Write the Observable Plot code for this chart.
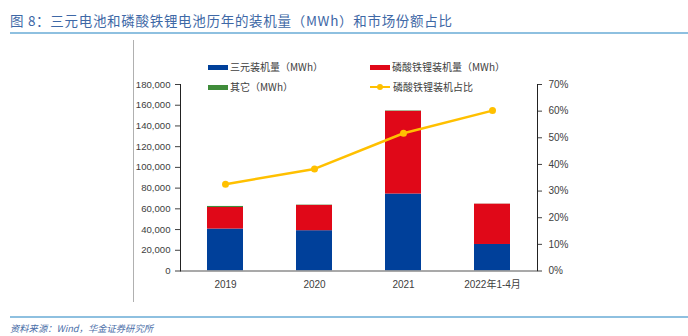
<!DOCTYPE html>
<html>
<head>
<meta charset="utf-8">
<script src="https://cdn.jsdelivr.net/npm/d3@7"></script>
<script src="https://cdn.jsdelivr.net/npm/@observablehq/plot@0.6"></script>
<style>
  body { margin: 0; background: #fff; }
  #wrap { position: relative; width: 688px; height: 336px; overflow: hidden; font-family: "Liberation Sans", "Noto Sans CJK SC", sans-serif; }
  #chart { position: absolute; left: 0; top: 0; }
  .title { position: absolute; left: 10px; top: 10px; font-family: "Noto Sans CJK SC", sans-serif; font-size: 13.5px; color: #3E68A6; letter-spacing: 0.7px; white-space: nowrap; line-height: 20px; }
  .hline { position: absolute; left: 10px; width: 678px; height: 2px; background: #8EC0E0; }
  .vline { position: absolute; left: 133px; top: 40px; width: 1px; height: 262px; background: #b0b0b0; }
  .foot { position: absolute; left: 10px; top: 321px; font-family: "Noto Sans CJK SC", sans-serif; font-size: 9.3px; font-style: italic; color: #4A6EA8; white-space: nowrap; line-height: 14px; }
  .leg { position: absolute; display: flex; align-items: center; font-family: "Noto Sans CJK SC", sans-serif; font-size: 10px; color: #404040; white-space: nowrap; line-height: 14px; }
  .sw { display: inline-block; width: 20px; height: 5px; margin-right: 2px; }
  .ln { position: relative; display: inline-block; width: 20px; height: 2px; margin-right: 3px; background: #FFC000; }
  .ln::after { content: ""; position: absolute; left: 7px; top: -2.5px; width: 6px; height: 6px; border-radius: 50%; background: #FFC000; }
</style>
</head>
<body>
<div id="wrap">
  <div id="chart"></div>
  <div class="title">图 8：三元电池和磷酸铁锂电池历年的装机量（MWh）和市场份额占比</div>
  <div class="hline" style="top:32px"></div>
  <div class="vline"></div>
  <div class="hline" style="top:316px"></div>
  <div class="foot">资料来源：Wind，华金证券研究所</div>
  <div id="legend"></div>
</div>
<script>
// ---- data ----
const years = ["2019", "2020", "2021", "2022年1-4月"];
const ternary = [40500, 38900, 74300, 25600];   // 三元装机量（MWh）
const lfp = [20800, 24400, 79800, 38900];       // 磷酸铁锂装机量（MWh）
const other = [1000, 300, 400, 100];            // 其它（MWh）
const lfpShare = [32.6, 38.3, 51.7, 60.2];      // 磷酸铁锂装机占比 (%)
const seriesNames = ["三元装机量（MWh）", "磷酸铁锂装机量（MWh）", "其它（MWh）", "磷酸铁锂装机占比"];
const seriesColors = ["#00409A", "#E00818", "#3F8C3A", "#FFC000"];
const leftTicks = [0, 20000, 40000, 60000, 80000, 100000, 120000, 140000, 160000, 180000];
const rightTicks = [0, 10, 20, 30, 40, 50, 60, 70];

const yMax = 180000, pMax = 70;
const toY = p => p / pMax * yMax;

const bars = [];
years.forEach((yr, i) => {
  bars.push({year: yr, series: seriesNames[0], value: ternary[i]});
  bars.push({year: yr, series: seriesNames[1], value: lfp[i]});
  bars.push({year: yr, series: seriesNames[2], value: other[i]});
});
const share = years.map((yr, i) => ({year: yr, share: lfpShare[i]}));

const fmt = d3.format(",");
const plot = Plot.plot({
  width: 688,
  height: 336,
  marginLeft: 180,
  marginRight: 151,
  marginTop: 84,
  marginBottom: 65.5,
  style: {fontFamily: "'Liberation Sans', 'Noto Sans CJK SC', sans-serif", fontSize: "10px", color: "#404040", background: "transparent"},
  x: {type: "band", domain: years, paddingInner: 0.6, paddingOuter: 0.3},
  y: {domain: [0, yMax]},
  color: {domain: seriesNames.slice(0, 3), range: seriesColors.slice(0, 3)},
  marks: [
    Plot.barY(bars, {x: "year", y: "value", fill: "series"}),
    Plot.ruleY([0], {stroke: "#8c8c8c", strokeWidth: 1.5}),
    Plot.frame({anchor: "left", stroke: "#222"}),
    Plot.frame({anchor: "right", stroke: "#222"}),
    Plot.axisY({anchor: "left", ticks: leftTicks, tickFormat: fmt, tickSize: 5, tickPadding: 5, label: null, fill: "#404040", fontSize: 9.6}),
    Plot.axisY({anchor: "right", ticks: rightTicks.map(toY), tickFormat: d => Math.round(d / yMax * pMax) + "%", tickSize: 4, tickPadding: 7, label: null, fill: "#404040"}),
    Plot.axisX({anchor: "bottom", tickSize: 0, tickPadding: 10, label: null, fill: "#404040"}),
    Plot.line(share, {x: "year", y: d => toY(d.share), stroke: seriesColors[3], strokeWidth: 2.5}),
    Plot.dot(share, {x: "year", y: d => toY(d.share), r: 3.5, fill: seriesColors[3]})
  ]
});
document.getElementById("chart").appendChild(plot);

// ---- legend ----
const legendPos = [[208, 60], [370, 60], [208, 80], [370, 80]];
const legend = document.getElementById("legend");
seriesNames.forEach((name, i) => {
  const div = document.createElement("div");
  div.className = "leg";
  div.style.left = legendPos[i][0] + "px";
  div.style.top = legendPos[i][1] + "px";
  const sw = document.createElement("span");
  if (i < 3) { sw.className = "sw"; sw.style.background = seriesColors[i]; }
  else { sw.className = "ln"; }
  div.appendChild(sw);
  div.appendChild(document.createTextNode(name));
  legend.appendChild(div);
});
</script>
</body>
</html>
